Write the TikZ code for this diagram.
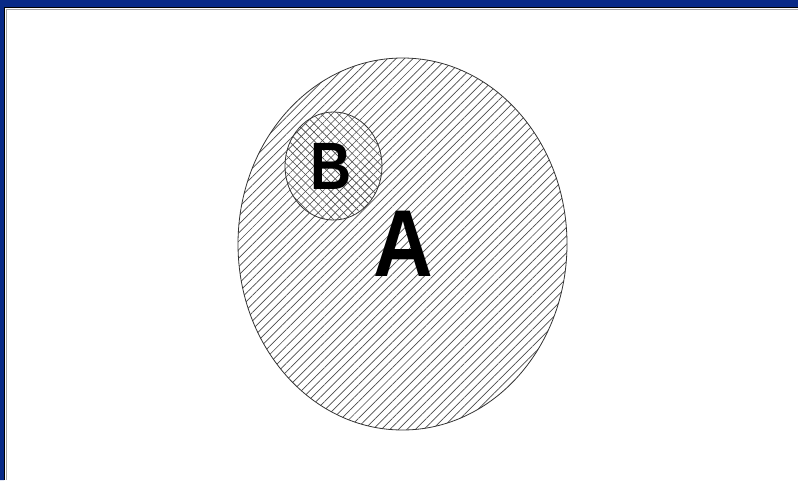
\documentclass[tikz,border=0pt]{standalone}
\usepackage{fontspec}
\setmainfont{Liberation Sans}
\usetikzlibrary{shapes.geometric,patterns.meta}
\definecolor{frameblue}{HTML}{082A87}

\begin{document}
\begin{tikzpicture}[x=1pt,y=-1pt]
  \def\Hs{6} % hatch spacing
  \useasboundingbox (0,0) rectangle (798,480);
  \fill[white] (0,0) rectangle (798,480);
  % window frame
  \fill[frameblue] (0,0) rectangle (798,7) (0,0) rectangle (4,480);
  \draw[black,line width=1.2pt] (4.6,480) -- (4.6,7.6) -- (798,7.6);
  \draw[gray!70,line width=1pt] (6.2,480) -- (6.2,9.2) -- (798,9.2);
  % set A
  \node[draw=black!80,thick,ellipse,minimum width=329,minimum height=372,inner sep=0,
    pattern={Lines[angle=45,distance=\Hs pt,line width=0.7pt]},pattern color=black!70] (setA) at (402.5,244) {};
  % set B
  \node[draw=black!80,thick,ellipse,minimum width=97,minimum height=108,inner sep=0,
    preaction={fill=white},
    pattern={Lines[angle=45,distance=\Hs pt,line width=0.6pt]},pattern color=black!70] (setB) at (333.5,166) {};
  \path[pattern={Lines[angle=-45,distance=\Hs pt,line width=0.6pt]},pattern color=black!70] (setB.center) ellipse [x radius=48.5,y radius=54];
  % labels
  \node[font=\fontsize{95}{95}\selectfont\bfseries,inner sep=0,xscale=0.87] (labA) at (403,244) {A};
  \node[font=\fontsize{67}{67}\selectfont\bfseries,inner sep=0,xscale=0.85] (labB) at (331,166) {B};
\end{tikzpicture}
\end{document}
